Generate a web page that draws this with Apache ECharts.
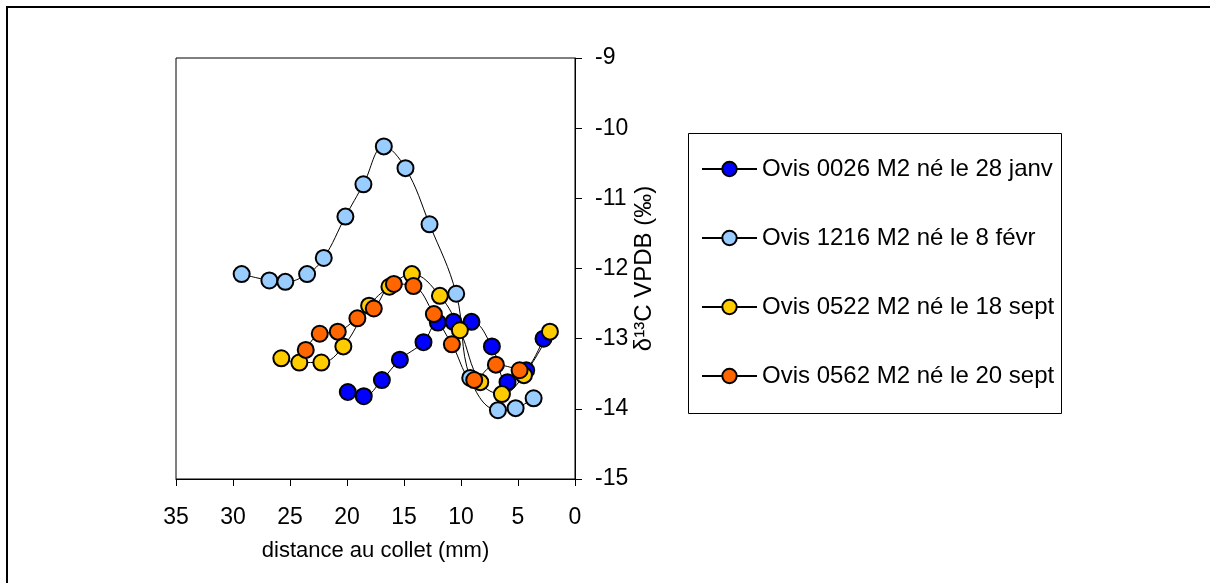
<!DOCTYPE html>
<html>
<head>
<meta charset="utf-8">
<script src="https://cdn.jsdelivr.net/npm/echarts@6/dist/echarts.min.js"></script>
<style>html,body{margin:0;padding:0;background:#fff;}#c{width:1210px;height:583px;}</style>
</head>
<body>
<div id="c"></div>
<script>
// Data (distance au collet in mm, delta13C in permil)
const names = ['Ovis 0026 M2 né le 28 janv', 'Ovis 1216 M2 né le 8 févr', 'Ovis 0522 M2 né le 18 sept', 'Ovis 0562 M2 né le 20 sept'];
const colors = ['#0000FF', '#99CCFF', '#FFCC00', '#FF6600'];

const blueX = [19.93, 18.53, 16.94, 15.36, 13.29, 12.03, 10.66, 9.08, 7.29, 5.92, 4.28, 2.76];
const blueY = [-13.76, -13.82, -13.59, -13.30, -13.05, -12.77, -12.76, -12.76, -13.11, -13.62, -13.45, -13.00];

const lightX = [29.24, 26.81, 25.41, 23.50, 22.04, 20.14, 18.56, 16.77, 14.87, 12.76, 10.42, 9.19, 6.76, 5.21, 3.63];
const lightY = [-12.08, -12.17, -12.19, -12.08, -11.85, -11.26, -10.80, -10.26, -10.57, -11.37, -12.36, -13.56, -14.02, -13.99, -13.85];

const yellowX = [25.76, 24.18, 22.25, 20.32, 18.06, 16.28, 14.31, 11.85, 10.10, 8.31, 6.41, 4.48, 2.20];
const yellowY = [-13.28, -13.34, -13.34, -13.11, -12.53, -12.26, -12.08, -12.39, -12.88, -13.62, -13.79, -13.52, -12.90];

const orangeX = [23.62, 22.39, 20.81, 19.09, 17.65, 15.89, 14.17, 12.38, 10.80, 8.84, 6.94, 4.86];
const orangeY = [-13.16, -12.93, -12.90, -12.71, -12.57, -12.22, -12.25, -12.65, -13.08, -13.59, -13.37, -13.45];

const xs = [blueX, lightX, yellowX, orangeX];
const ys = [blueY, lightY, yellowY, orangeY];

const FONT = "'Liberation Sans', Arial, sans-serif";

const chart = echarts.init(document.getElementById('c'), null, {renderer: 'canvas'});

const series = names.map((n, k) => ({
  name: n,
  type: 'line',
  data: xs[k].map((x, i) => [x, ys[k][i]]),
  smooth: 0.4,
  symbol: 'circle',
  symbolSize: 16,
  itemStyle: {color: colors[k], borderColor: '#000', borderWidth: 2},
  lineStyle: {color: '#000', width: 1},
  emphasis: {disabled: true},
  animation: false
}));

chart.setOption({
  animation: false,
  backgroundColor: '#fff',
  grid: {left: 176, right: 635, top: 58, bottom: 104, show: true, borderColor: '#000', borderWidth: 1, containLabel: false},
  xAxis: {
    type: 'value', min: 0, max: 35, interval: 5, inverse: true,
    name: 'distance au collet (mm)', nameLocation: 'middle', nameGap: 61,
    nameTextStyle: {fontFamily: FONT, fontSize: 22, color: '#000'},
    axisLine: {show: true, onZero: false, lineStyle: {color: '#000', width: 1}},
    axisTick: {show: true, inside: false, length: 7, lineStyle: {color: '#000'}},
    axisLabel: {fontFamily: FONT, fontSize: 23, color: '#000', margin: 27},
    splitLine: {show: false}
  },
  yAxis: {
    type: 'value', min: -15, max: -9, interval: 1, position: 'right',
    name: 'δ¹³C VPDB (‰)', nameLocation: 'middle', nameGap: 52, nameRotate: 90,
    nameTextStyle: {fontFamily: FONT, fontSize: 24, color: '#000'},
    axisLine: {show: true, onZero: false, lineStyle: {color: '#000', width: 1}},
    axisTick: {show: true, inside: false, length: 7, lineStyle: {color: '#000'}},
    axisLabel: {fontFamily: FONT, fontSize: 23, color: '#000', margin: 20},
    splitLine: {show: false}
  },
  legend: {
    orient: 'vertical', left: 701, top: 157, padding: 0,
    itemWidth: 55, itemHeight: 18, itemGap: 45,
    textStyle: {fontFamily: FONT, fontSize: 24, color: '#000'},
    data: names
  },
  graphic: [
    {type: 'rect', shape: {x: 688.5, y: 133.5, width: 373, height: 280}, style: {fill: 'none', stroke: '#000', lineWidth: 1}, silent: true},
    {type: 'line', shape: {x1: 6, y1: 7, x2: 1210, y2: 7}, style: {stroke: '#000', lineWidth: 2}, silent: true},
    {type: 'line', shape: {x1: 7, y1: 6, x2: 7, y2: 583}, style: {stroke: '#000', lineWidth: 2}, silent: true}
  ],
  series: series
});
</script>
</body>
</html>
